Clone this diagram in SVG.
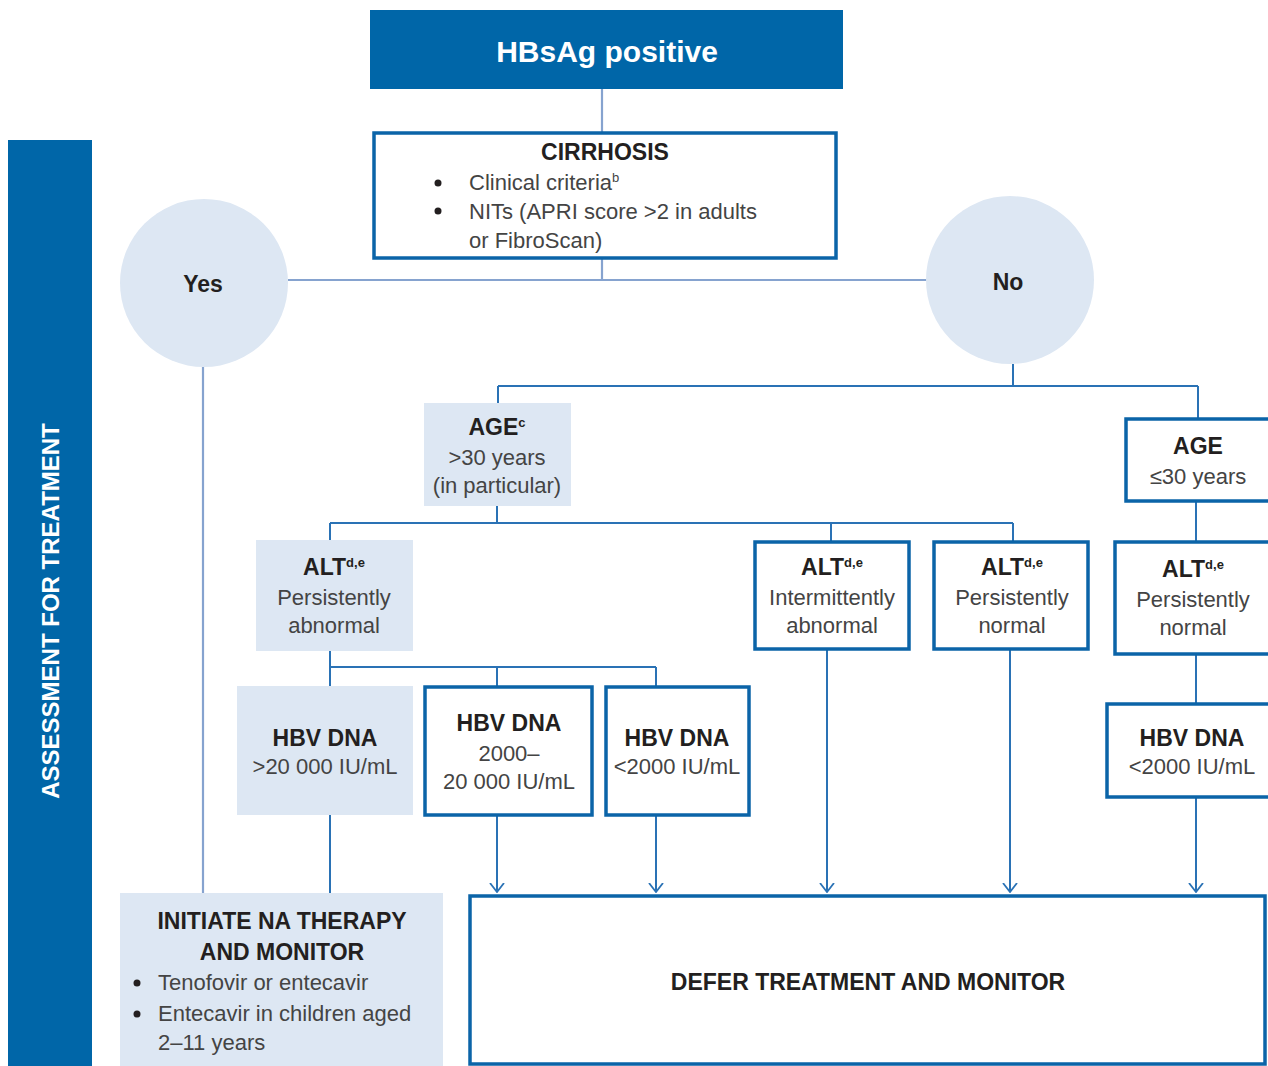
<svg xmlns="http://www.w3.org/2000/svg" width="1268" height="1066" viewBox="0 0 1268 1066">
<defs>
<style>
text{font-family:"Liberation Sans",Arial,sans-serif;fill:#2b2b2b}
.h{font-weight:bold;font-size:23px;fill:#231f20}
.b{font-size:22px;fill:#444}
.c{text-anchor:middle}
.sup{font-size:13px}
.fill{fill:#dde7f3}
.box{fill:#fff;stroke:#0b64a8;stroke-width:3.5}
.ln{fill:none;stroke:#2a72b5;stroke-width:2}
.lt{fill:none;stroke:#86a3cf;stroke-width:2.2}
.w{fill:#fff;font-weight:bold}
</style>
<marker id="arr" viewBox="0 0 10 16" refX="9" refY="8" markerWidth="10" markerHeight="16" markerUnits="userSpaceOnUse" orient="auto">
<path d="M0,1 L9,8 L0,15" fill="none" stroke="#2a72b5" stroke-width="1.8"/>
</marker>
</defs>
<rect width="1268" height="1066" fill="#fff"/>

<g id="connectors">
<path class="lt" d="M602,89 V132"/>
<path class="lt" d="M602,259 V280 M288,280 H927"/>
<path class="lt" d="M203,367 V893"/>
<path class="ln" d="M1013,364 V386 M498,386 H1198 M498,386 V403 M1198,386 V418"/>
<path class="ln" d="M497,506 V523 M330,523 H1013 M330,523 V540 M831,523 V541 M1013,523 V541"/>
<path class="ln" d="M1196,502 V541"/>
<path class="ln" d="M330,651 V667 H656 M330,667 V686 M497,667 V686 M656,667 V686"/>
<path class="ln" d="M1196,655 V703"/>
<path class="ln" d="M330,815 V893"/>
<path class="ln" d="M497,816 V892" marker-end="url(#arr)"/>
<path class="ln" d="M656,816 V892" marker-end="url(#arr)"/>
<path class="ln" d="M827,650 V892" marker-end="url(#arr)"/>
<path class="ln" d="M1010,650 V892" marker-end="url(#arr)"/>
<path class="ln" d="M1196,798 V892" marker-end="url(#arr)"/>
</g>

<g id="side-bar">
<rect x="8" y="140" width="84" height="930" fill="#0066a8"/>
<text class="w" font-size="24" transform="translate(59,611) rotate(-90)" text-anchor="middle">ASSESSMENT FOR TREATMENT</text>
</g>

<g id="hbsag">
<rect x="370" y="10" width="473" height="79" fill="#0066a8"/>
<text class="w c" x="607" y="62" font-size="30">HBsAg positive</text>
</g>

<g id="cirrhosis">
<rect class="box" x="374" y="133" width="462" height="125"/>
<text class="h c" x="605" y="160">CIRRHOSIS</text>
<circle cx="438" cy="183" r="3.5" fill="#231f20"/>
<circle cx="438" cy="211" r="3.5" fill="#231f20"/>
<text class="b" x="469" y="190">Clinical criteria<tspan class="sup" dy="-8">b</tspan></text>
<text class="b" x="469" y="219">NITs (APRI score &gt;2 in adults</text>
<text class="b" x="469" y="248">or FibroScan)</text>
</g>

<g id="yes">
<circle cx="204" cy="283" r="84" class="fill"/>
<text class="h c" x="203" y="292">Yes</text>
</g>

<g id="no">
<circle cx="1010" cy="280" r="84" class="fill"/>
<text class="h c" x="1008" y="290">No</text>
</g>

<g id="age-over30">
<rect x="424" y="403" width="147" height="103" class="fill"/>
<text class="h c" x="497" y="435">AGE<tspan class="sup" dy="-8">c</tspan></text>
<text class="b c" x="497" y="465">&gt;30 years</text>
<text class="b c" x="497" y="493">(in particular)</text>
</g>

<g id="age-under30">
<rect class="box" x="1126" y="419" width="146" height="82"/>
<text class="h c" x="1198" y="454">AGE</text>
<text class="b c" x="1198" y="484">≤30 years</text>
</g>

<g id="alt-pers-abnormal">
<rect x="256" y="540" width="157" height="111" class="fill"/>
<text class="h c" x="334" y="575">ALT<tspan class="sup" dy="-8">d,e</tspan></text>
<text class="b c" x="334" y="605">Persistently</text>
<text class="b c" x="334" y="633">abnormal</text>
</g>

<g id="alt-intermittent">
<rect class="box" x="755" y="542" width="154" height="107"/>
<text class="h c" x="832" y="575">ALT<tspan class="sup" dy="-8">d,e</tspan></text>
<text class="b c" x="832" y="605">Intermittently</text>
<text class="b c" x="832" y="633">abnormal</text>
</g>

<g id="alt-pers-normal">
<rect class="box" x="934" y="542" width="154" height="107"/>
<text class="h c" x="1012" y="575">ALT<tspan class="sup" dy="-8">d,e</tspan></text>
<text class="b c" x="1012" y="605">Persistently</text>
<text class="b c" x="1012" y="633">normal</text>
</g>

<g id="alt-pers-normal-young">
<rect class="box" x="1115" y="542" width="157" height="112"/>
<text class="h c" x="1193" y="577">ALT<tspan class="sup" dy="-8">d,e</tspan></text>
<text class="b c" x="1193" y="607">Persistently</text>
<text class="b c" x="1193" y="635">normal</text>
</g>

<g id="hbv-high">
<rect x="237" y="686" width="176" height="129" class="fill"/>
<text class="h c" x="325" y="746">HBV DNA</text>
<text class="b c" x="325" y="774">&gt;20 000 IU/mL</text>
</g>

<g id="hbv-mid">
<rect class="box" x="425" y="687" width="167" height="128"/>
<text class="h c" x="509" y="731">HBV DNA</text>
<text class="b c" x="509" y="761">2000–</text>
<text class="b c" x="509" y="789">20 000 IU/mL</text>
</g>

<g id="hbv-low">
<rect class="box" x="606" y="687" width="143" height="128"/>
<text class="h c" x="677" y="746">HBV DNA</text>
<text class="b c" x="677" y="774">&lt;2000 IU/mL</text>
</g>

<g id="hbv-low-young">
<rect class="box" x="1107" y="704" width="165" height="93"/>
<text class="h c" x="1192" y="746">HBV DNA</text>
<text class="b c" x="1192" y="774">&lt;2000 IU/mL</text>
</g>

<g id="initiate">
<rect x="120" y="893" width="323" height="180" class="fill"/>
<text class="h c" x="282" y="929">INITIATE NA THERAPY</text>
<text class="h c" x="282" y="960">AND MONITOR</text>
<circle cx="137" cy="983" r="3.5" fill="#231f20"/>
<circle cx="137" cy="1014" r="3.5" fill="#231f20"/>
<text class="b" x="158" y="990">Tenofovir or entecavir</text>
<text class="b" x="158" y="1021">Entecavir in children aged</text>
<text class="b" x="158" y="1050">2–11 years</text>
</g>

<g id="defer">
<rect class="box" x="470" y="896" width="795" height="168"/>
<text class="h c" x="868" y="990">DEFER TREATMENT AND MONITOR</text>
</g>
</svg>
